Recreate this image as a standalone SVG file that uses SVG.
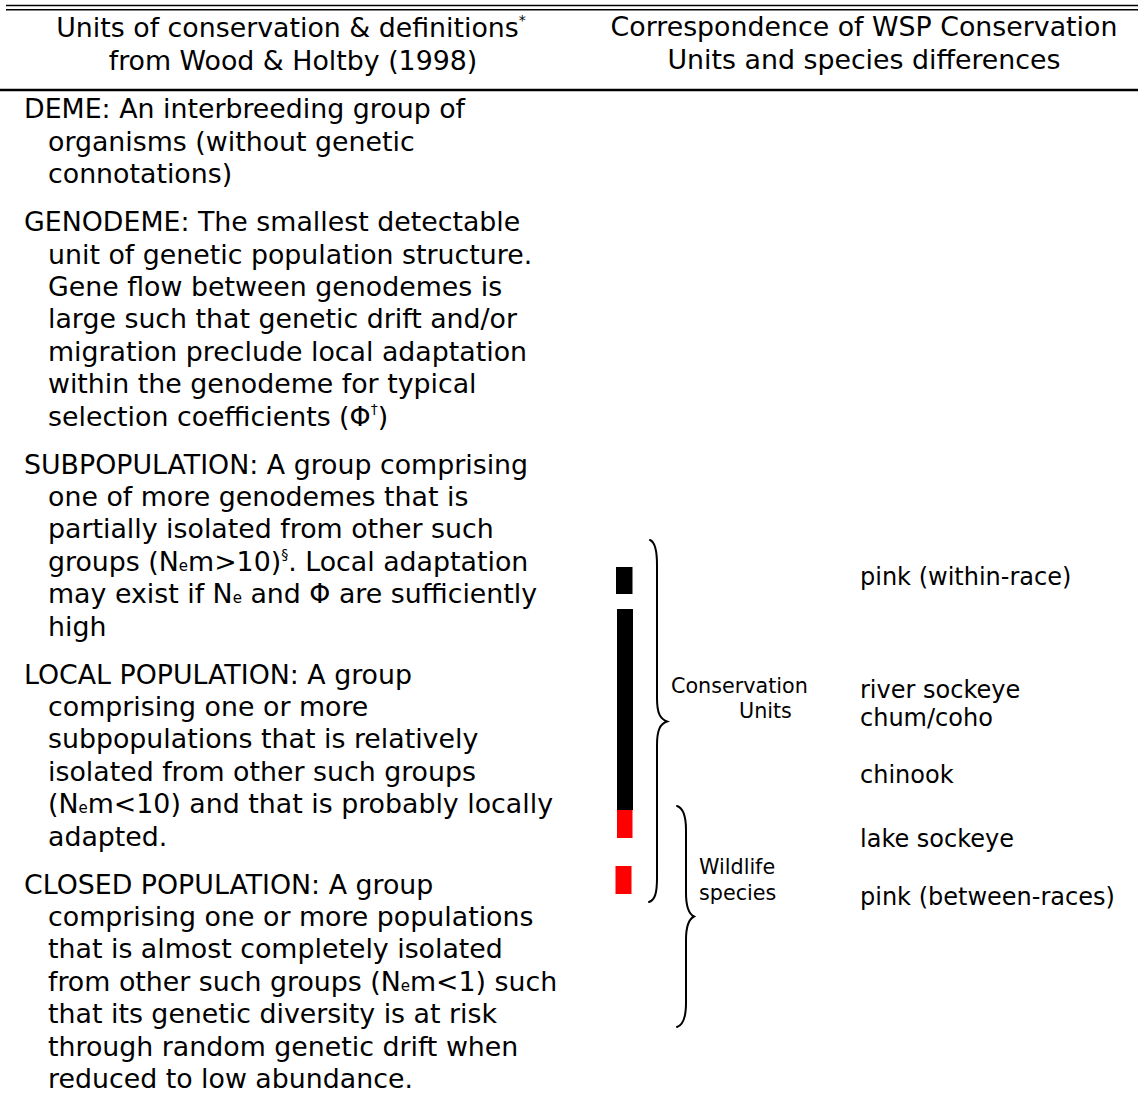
<svg xmlns="http://www.w3.org/2000/svg" width="1138" height="1093" viewBox="0 0 1138 1093">
  <style>
    text { font-family: "DejaVu Sans", Verdana, "Liberation Sans", sans-serif; fill: #000; }
    .body { font-size: 26.8px; }
    .label { font-size: 24px; }
    .small { font-size: 20.7px; }
    .sup { font-size: 14px; }
    .sub { font-size: 15px; }
    .rule { stroke: #000; fill: none; }
    .brace { stroke: #000; stroke-width: 2; fill: none; stroke-linecap: round; }
  </style>
  <rect width="1138" height="1093" fill="#fff"/>

  <!-- table rules -->
  <g id="rules">
    <line class="rule" x1="6" y1="5.5" x2="1138" y2="5.5" stroke-width="1.6"/>
    <line class="rule" x1="6" y1="9.8" x2="1138" y2="9.8" stroke-width="1.6"/>
    <line class="rule" x1="0" y1="90" x2="1138" y2="90" stroke-width="2.6"/>
  </g>

  <!-- column headings -->
  <g id="header-left" class="body" text-anchor="middle">
    <text x="291" y="37">Units of conservation &amp; definitions<tspan class="sup" dy="-12">*</tspan></text>
    <text x="293" y="70">from Wood &amp; Holtby (1998)</text>
  </g>
  <g id="header-right" class="body" text-anchor="middle">
    <text x="864" y="36">Correspondence of WSP Conservation</text>
    <text x="864" y="68.5">Units and species differences</text>
  </g>

  <!-- definitions -->
  <g id="deme" class="body">
    <text x="24" y="118.3">DEME: An interbreeding group of</text>
    <text x="48" y="150.7">organisms (without genetic</text>
    <text x="48" y="183.1">connotations)</text>
  </g>
  <g id="genodeme" class="body">
    <text x="24" y="231.1">GENODEME: The smallest detectable</text>
    <text x="48" y="263.5">unit of genetic population structure.</text>
    <text x="48" y="295.9">Gene flow between genodemes is</text>
    <text x="48" y="328.3">large such that genetic drift and/or</text>
    <text x="48" y="360.7">migration preclude local adaptation</text>
    <text x="48" y="393.1">within the genodeme for typical</text>
    <text x="48" y="425.5">selection coefficients (Φ<tspan class="sup" dy="-12">†</tspan><tspan dy="12">)</tspan></text>
  </g>
  <g id="subpopulation" class="body">
    <text x="24" y="473.5">SUBPOPULATION: A group comprising</text>
    <text x="48" y="505.9">one of more genodemes that is</text>
    <text x="48" y="538.3">partially isolated from other such</text>
    <text x="48" y="570.7">groups (N<tspan class="sub">e</tspan>m&gt;10)<tspan class="sup" dy="-12">§</tspan><tspan dy="12">. Local adaptation</tspan></text>
    <text x="48" y="603.1">may exist if N<tspan class="sub">e</tspan> and Φ are sufficiently</text>
    <text x="48" y="635.5">high</text>
  </g>
  <g id="local-population" class="body">
    <text x="24" y="683.5">LOCAL POPULATION: A group</text>
    <text x="48" y="715.9">comprising one or more</text>
    <text x="48" y="748.3">subpopulations that is relatively</text>
    <text x="48" y="780.7">isolated from other such groups</text>
    <text x="48" y="813.1">(N<tspan class="sub">e</tspan>m&lt;10) and that is probably locally</text>
    <text x="48" y="845.5">adapted.</text>
  </g>
  <g id="closed-population" class="body">
    <text x="24" y="893.5">CLOSED POPULATION: A group</text>
    <text x="48" y="925.9">comprising one or more populations</text>
    <text x="48" y="958.3">that is almost completely isolated</text>
    <text x="48" y="990.7">from other such groups (N<tspan class="sub">e</tspan>m&lt;1) such</text>
    <text x="48" y="1023.1">that its genetic diversity is at risk</text>
    <text x="48" y="1055.5">through random genetic drift when</text>
    <text x="48" y="1087.9">reduced to low abundance.</text>
  </g>

  <!-- scale bar: black = conservation units, red = wildlife species -->
  <g id="scale-bar">
    <rect x="616" y="567" width="16.5" height="27" fill="#000"/>
    <rect x="617" y="609" width="16" height="201" fill="#000"/>
    <rect x="617" y="810" width="15.5" height="28" fill="#f00"/>
    <rect x="615.5" y="866" width="16" height="28" fill="#f00"/>
  </g>

  <!-- brackets -->
  <g id="connectors">
    <path class="brace" d="M650,540 C655,542 657,550 657,565 L657,698 C657,713 660,719 667,721.5 C660,724 657,730 657,745 L657,878 C657,893 655,900 649,902"/>
    <path class="brace" d="M677,806 C683,808 686,815 686,830 L686,893 C686,908 689,914 694,916.5 C689,919 686,925 686,940 L686,1003 C686,1018 683,1025 677,1027"/>
  </g>

  <g id="label-conservation-units" class="small">
    <text x="671" y="693">Conservation</text>
    <text x="739" y="717.7">Units</text>
  </g>
  <g id="label-wildlife-species" class="small">
    <text x="699" y="874">Wildlife</text>
    <text x="699" y="900">species</text>
  </g>

  <!-- species placement -->
  <g id="species" class="label">
    <text x="860" y="585">pink (within-race)</text>
    <text x="860" y="698">river sockeye</text>
    <text x="860" y="725.7">chum/coho</text>
    <text x="860" y="783.3">chinook</text>
    <text x="860" y="846.7">lake sockeye</text>
    <text x="860" y="905">pink (between-races)</text>
  </g>
</svg>
